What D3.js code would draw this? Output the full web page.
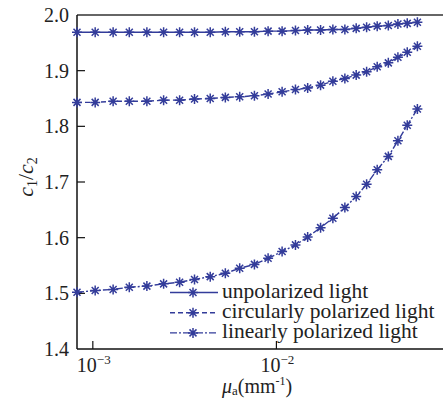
<!DOCTYPE html>
<html>
<head>
<meta charset="utf-8">
<script src="https://cdn.jsdelivr.net/npm/d3@7"></script>
<style>
  body { margin: 0; background: #fff; }
  svg { display: block; }
</style>
</head>
<body>
<div id="chart"></div>
<script>
// absorption coefficient mu_a (mm^-1)
const muA = [0.00082, 0.00103, 0.00129, 0.00158, 0.00197, 0.00243, 0.00297, 0.00358, 0.00436, 0.00527,
    0.00631, 0.00759, 0.00901, 0.01074, 0.0127, 0.0148, 0.0174, 0.0203, 0.0236, 0.0272,
    0.0310, 0.0354, 0.0407, 0.0459, 0.0516, 0.0586];

const topCurve = [1.969, 1.969, 1.969, 1.969, 1.969, 1.969, 1.969, 1.969, 1.969, 1.970,
    1.970, 1.970, 1.971, 1.971, 1.972, 1.973, 1.973, 1.974, 1.974, 1.976,
    1.978, 1.980, 1.981, 1.984, 1.985, 1.987];
const midCurve = [1.843, 1.843, 1.845, 1.845, 1.845, 1.847, 1.847, 1.849, 1.850, 1.852,
    1.853, 1.855, 1.858, 1.862, 1.866, 1.869, 1.874, 1.881, 1.886, 1.892,
    1.898, 1.907, 1.914, 1.924, 1.933, 1.944];
const lowCurve = [1.502, 1.505, 1.507, 1.511, 1.513, 1.517, 1.520, 1.525, 1.530, 1.536,
    1.545, 1.552, 1.563, 1.575, 1.587, 1.601, 1.618, 1.635, 1.654, 1.674,
    1.696, 1.722, 1.746, 1.774, 1.802, 1.831];

const seriesNames = ["unpolarized light", "circularly polarized light", "linearly polarized light"];
const seriesDash = [null, "5,3", "7,2,2,2"];
const yTicks = [1.4, 1.5, 1.6, 1.7, 1.8, 1.9, 2.0];
const xTicks = [0.001, 0.01];
const xTickExp = ["\u22123", "\u22122"];

let width = 443, height = 404;
let color = "#333c9a";
let serif = "Liberation Serif";

let svg = d3.select("#chart")
    .append("svg")
    .attr("width", width)
    .attr("height", height)
    .style("font-family", `"${serif}"`);

let x = d3.scaleLog().domain([0.00082, 0.1]).range([77, 460]);
let y = d3.scaleLinear().domain([1.4, 2.0]).range([349, 15]);

// frame: top, left, bottom (right side runs off the page)
svg.append("line").attr("x1", 77).attr("x2", 460).attr("y1", 15).attr("y2", 15)
    .attr("stroke", "#333").attr("stroke-width", 1.5);
svg.append("line").attr("x1", 77).attr("x2", 460).attr("y1", 349).attr("y2", 349)
    .attr("stroke", "#111").attr("stroke-width", 1.5);
svg.append("line").attr("x1", 77).attr("x2", 77).attr("y1", 15).attr("y2", 349)
    .attr("stroke", "#111").attr("stroke-width", 1.5);

// y ticks (inward) and labels
svg.selectAll(".ytick").data(yTicks.slice(1, -1)).enter().append("line")
    .attr("x1", 77).attr("x2", 85)
    .attr("y1", d => y(d)).attr("y2", d => y(d))
    .attr("stroke", "#111").attr("stroke-width", 1.2);
svg.selectAll(".ylab").data(yTicks).enter().append("text")
    .attr("x", 69).attr("y", d => y(d) + 7)
    .attr("text-anchor", "end")
    .style("font-family", d => `"${serif}"`)
    .attr("font-size", 20)
    .attr("fill", "#222")
    .text(d => d.toFixed(1));

// x ticks (inward) and labels
svg.selectAll(".xtick").data(xTicks).enter().append("line")
    .attr("x1", d => x(d)).attr("x2", d => x(d))
    .attr("y1", 349).attr("y2", 341)
    .attr("stroke", "#111").attr("stroke-width", 1.2);
let xl = svg.selectAll(".xlab").data(xTicks).enter().append("text")
    .attr("x", d => x(d) - 16).attr("y", 372)
    .style("font-family", d => `"${serif}"`)
    .attr("font-size", 20)
    .attr("fill", "#222");
xl.append("tspan").text("10");
xl.append("tspan").attr("dy", -8).attr("font-size", 13).text((d, i) => xTickExp[i]);

// axis titles
let xt = svg.append("text").attr("x", 222).attr("y", 393)
    .style("font-family", `"${serif}"`).attr("font-size", 20).attr("fill", "#222");
xt.append("tspan").attr("font-style", "italic").text("\u03bc");
xt.append("tspan").attr("dy", 2).attr("font-size", 13).text("a");
xt.append("tspan").attr("dy", -2).text("(mm");
xt.append("tspan").attr("dy", -8).attr("font-size", 12).text("-1");
xt.append("tspan").attr("dy", 8).text(")");

let yt = svg.append("text")
    .attr("transform", "translate(33,177) rotate(-90)")
    .attr("text-anchor", "middle")
    .style("font-family", `"${serif}"`)
    .attr("font-size", 22)
    .attr("fill", "#222");
yt.append("tspan").attr("font-style", "italic").text("c");
yt.append("tspan").attr("dy", 4).attr("font-size", 14).text("1");
yt.append("tspan").attr("dy", -4).text("/");
yt.append("tspan").attr("font-style", "italic").text("c");
yt.append("tspan").attr("dy", 4).attr("font-size", 14).text("2");

// asterisk marker (+ and x combined)
const star = "M0,-5V5M-5,0H5M-3.5,-3.5L3.5,3.5M-3.5,3.5L3.5,-3.5";

let line = d3.line()
    .x(d => x(d[0]))
    .y(d => y(d[1]));

[topCurve, midCurve, lowCurve].forEach((vals, i) => {
    let pts = muA.map((m, j) => [m, vals[j]]);
    svg.append("path")
        .datum(pts)
        .attr("fill", "none")
        .attr("stroke", color)
        .attr("stroke-width", 1.4)
        .attr("stroke-dasharray", seriesDash[i])
        .attr("d", line);
    svg.selectAll(".m" + i).data(pts).enter().append("path")
        .attr("transform", d => `translate(${x(d[0])},${y(d[1])})`)
        .attr("d", star)
        .attr("stroke", color)
        .attr("stroke-width", 1.5)
        .attr("fill", "none");
});

// legend
let legend = svg.append("g").attr("transform", "translate(170,292.5)");
seriesNames.forEach((name, i) => {
    let g = legend.append("g").attr("transform", `translate(0,${i * 20.2})`);
    g.append("line").attr("x1", 0).attr("x2", 48).attr("y1", 0).attr("y2", 0)
        .attr("stroke", color).attr("stroke-width", 1.4)
        .attr("stroke-dasharray", seriesDash[i]);
    g.append("path").attr("transform", "translate(23,0)").attr("d", star)
        .attr("stroke", color).attr("stroke-width", 1.5).attr("fill", "none");
    g.append("text").attr("x", 52).attr("y", 5)
        .style("font-family", `"${serif}"`)
        .attr("font-size", 21.5).attr("fill", "#222")
        .text(name);
});
</script>
</body>
</html>
